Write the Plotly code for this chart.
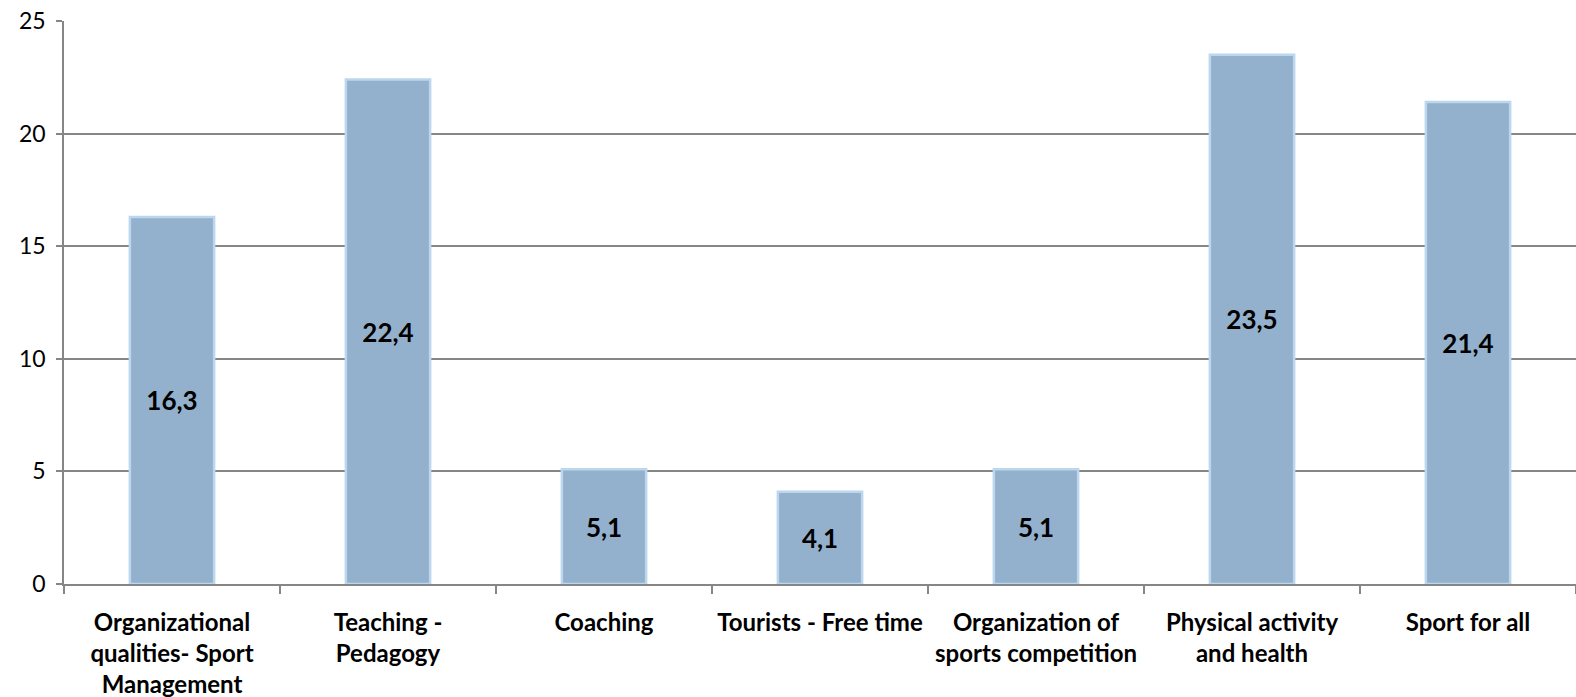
import plotly.graph_objects as go

categories = [
    "Organizational<br>qualities- Sport<br>Management",
    "Teaching -<br>Pedagogy",
    "Coaching",
    "Tourists - Free time",
    "Organization of<br>sports competition",
    "Physical activity<br>and health",
    "Sport for all",
]
values = [16.3, 22.4, 5.1, 4.1, 5.1, 23.5, 21.4]
value_labels = ["16,3", "22,4", "5,1", "4,1", "5,1", "23,5", "21,4"]
y_ticks = [0, 5, 10, 15, 20, 25]

fig = go.Figure()
fig.add_trace(go.Bar(
    x=categories,
    y=values,
    text=value_labels,
    textposition="inside",
    insidetextanchor="middle",
    textangle=0,
    textfont=dict(family="Lato, DejaVu Sans", size=26, color="#000000", weight="bold"),
    marker=dict(color="#93B1CD", line=dict(color="#BCD6EE", width=2.5)),
    cliponaxis=False,
))

fig.update_layout(
    width=1576,
    height=697,
    margin=dict(l=64, r=0, t=21, b=113),
    paper_bgcolor="#FFFFFF",
    plot_bgcolor="#FFFFFF",
    bargap=0.61,
    showlegend=False,
    font=dict(family="Lato, DejaVu Sans", color="#000000"),
)
fig.update_xaxes(
    type="category",
    automargin=False,
    tickson="boundaries",
    ticks="outside",
    ticklen=8,
    tickcolor="#868686",
    tickwidth=1.5,
    showline=True,
    linecolor="#868686",
    linewidth=1.5,
    showgrid=False,
    tickfont=dict(family="Lato, DejaVu Sans", size=24, color="#000000", weight="bold"),
    ticklabelstandoff=16,
)
fig.update_yaxes(
    range=[0, 25],
    automargin=False,
    tickvals=y_ticks,
    ticktext=[str(v) for v in y_ticks],
    ticks="outside",
    ticklen=6,
    tickcolor="#868686",
    tickwidth=1.5,
    showline=True,
    linecolor="#868686",
    linewidth=1.5,
    showgrid=True,
    gridcolor="#868686",
    gridwidth=1.5,
    zeroline=False,
    tickfont=dict(family="Lato, DejaVu Sans", size=23, color="#000000"),
    ticklabelstandoff=6,
)

fig.write_html(
    "out.html",
    config={"displayModeBar": False},
    post_script="document.body.style.margin='0px';document.body.style.overflow='hidden';",
)
